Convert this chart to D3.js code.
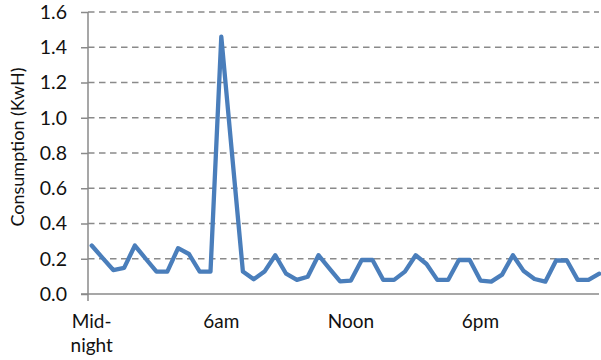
<!DOCTYPE html>
<html>
<head>
<meta charset="utf-8">
<script src="https://cdn.jsdelivr.net/npm/d3@7"></script>
<style>
  html, body { margin: 0; padding: 0; background: #fff; }
  svg { display: block; }
  text { font-family: Lato, "Open Sans", sans-serif; fill: #111; }
</style>
</head>
<body>
<svg id="chart" width="601" height="360"></svg>
<script>
// Half-hourly electricity consumption over one day (48 readings, kWh)
const slots = d3.range(48);
const consumption = [
  0.275, 0.205, 0.136, 0.148, 0.275, 0.200, 0.127, 0.127,
  0.260, 0.227, 0.127, 0.127, 1.460, 0.790, 0.127, 0.083,
  0.127, 0.220, 0.115, 0.080, 0.098, 0.220, 0.145, 0.072,
  0.076, 0.193, 0.193, 0.080, 0.080, 0.127, 0.220, 0.170,
  0.080, 0.080, 0.193, 0.193, 0.076, 0.070, 0.110, 0.220,
  0.130, 0.085, 0.070, 0.190, 0.190, 0.080, 0.080, 0.115
];
const yTicks = [0, 0.2, 0.4, 0.6, 0.8, 1.0, 1.2, 1.4, 1.6];
// Labelled slots on the time axis (slot index -> text lines)
const timeLabelSlots = [0, 12, 24, 36];
const timeLabels = [["Mid-", "night"], ["6am"], ["Noon"], ["6pm"]];
const yTitle = "Consumption (KwH)";

const svg = d3.select("#chart");
const axisX = 88, plotRight = 599, plotTop = 12, plotBottom = 294;

const x = d3.scalePoint().domain(slots).range([91.7, 599.3]);
const y = d3.scaleLinear().domain([0, 1.6]).range([plotBottom, plotTop]);

// Dashed horizontal gridlines
svg.append("g")
  .selectAll("line")
  .data(yTicks.filter(d => d > 0))
  .join("line")
  .attr("x1", axisX).attr("x2", plotRight)
  .attr("y1", d => y(d)).attr("y2", d => y(d))
  .attr("stroke", "#8a8a8a")
  .attr("stroke-width", 1.5)
  .attr("stroke-dasharray", "6.5,4.5");

// Value axis
const yAxis = d3.axisLeft(y)
  .tickValues(yTicks)
  .tickFormat(d3.format(".1f"))
  .tickSize(7)
  .tickPadding(14);
const gy = svg.append("g").attr("transform", `translate(${axisX},0)`).call(yAxis);
gy.select(".domain").remove();
gy.selectAll(".tick line").attr("stroke", "#8a8a8a").attr("stroke-width", 1.5);
gy.selectAll(".tick text").attr("font-size", 19.5).attr("fill", "#111")
  .style("font-family", "Lato, sans-serif");
gy.append("line")
  .attr("x1", 0).attr("x2", 0)
  .attr("y1", plotTop).attr("y2", plotBottom + 7)
  .attr("stroke", "#8a8a8a").attr("stroke-width", 1.5);

// Category axis baseline
svg.append("line")
  .attr("x1", axisX - 7).attr("x2", plotRight)
  .attr("y1", plotBottom).attr("y2", plotBottom)
  .attr("stroke", "#8a8a8a").attr("stroke-width", 1.5);

// Time labels
const lab = svg.append("g")
  .selectAll("text")
  .data(timeLabelSlots.map((s, i) => ({ s, lines: timeLabels[i] })))
  .join("text")
  .attr("text-anchor", "middle")
  .attr("font-size", 19)
  .attr("x", d => x(d.s))
  .attr("y", 328);
lab.selectAll("tspan")
  .data(d => d.lines.map(t => ({ t, x: x(d.s) })))
  .join("tspan")
  .attr("x", d => d.x)
  .attr("dy", (d, i) => i === 0 ? 0 : 24)
  .text(d => d.t);

// Axis title
svg.append("text")
  .attr("transform", `translate(24,${(62 + 232) / 2}) rotate(-90)`)
  .attr("text-anchor", "middle")
  .attr("font-size", 18)
  .text(yTitle);

// Consumption line
const line = d3.line()
  .x((d, i) => x(slots[i]))
  .y(d => y(d));
svg.append("path")
  .datum(consumption)
  .attr("d", line)
  .attr("fill", "none")
  .attr("stroke", "#4a7ebb")
  .attr("stroke-width", 4.3)
  .attr("stroke-linejoin", "round")
  .attr("stroke-linecap", "round");
</script>
</body>
</html>
